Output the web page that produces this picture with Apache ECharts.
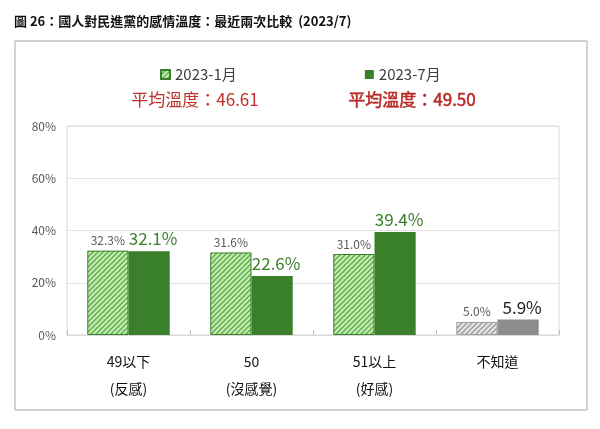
<!DOCTYPE html>
<html><head><meta charset="utf-8">
<script src="https://cdn.jsdelivr.net/npm/echarts@6/dist/echarts.min.js"></script>
<style>html,body{margin:0;padding:0;background:#fff}#c{width:600px;height:429px}</style>
</head><body><div id="c"></div>
<script>
const categories = ['49以下\n(反感)', '50\n(沒感覺)', '51以上\n(好感)', '不知道'];
const seriesNames = ['2023-1月', '2023-7月'];
const jan = [32.3, 31.6, 31.0, 5.0];
const jul = [32.1, 22.6, 39.4, 5.9];
const avgTexts = ['平均溫度：46.61', '平均溫度：49.50'];
const yTicks = [0, 20, 40, 60, 80];
const titleText = '圖 26：國人對民進黨的感情溫度：最近兩次比較  (2023/7)';

function hatch(bg, fg) {
  const c = document.createElement('canvas');
  c.width = 5; c.height = 5;
  const g = c.getContext('2d');
  g.fillStyle = bg; g.fillRect(0, 0, 5, 5);
  g.strokeStyle = fg; g.lineWidth = 1.3;
  g.beginPath();
  g.moveTo(-1, 6); g.lineTo(6, -1);
  g.moveTo(-1, 1); g.lineTo(1, -1);
  g.moveTo(4, 6); g.lineTo(6, 4);
  g.stroke();
  return { image: c, repeat: 'repeat' };
}
const greenHatch = hatch('#c4ebb2', '#5aab45');
const grayHatch = hatch('#e6e6e6', '#9a9a9a');
const darkGreen = '#3a7f2a';
const gray = '#8c8c8c';
const FONT = '"Noto Sans CJK TC", "Noto Sans", sans-serif';

const chart = echarts.init(document.getElementById('c'), null, { renderer: 'canvas' });
chart.setOption({
  animation: false,
  textStyle: { fontFamily: FONT },
  title: {
    text: titleText, left: 9, top: 10,
    textStyle: { fontSize: 13, fontWeight: 'bold', color: '#111', fontFamily: FONT }
  },
  legend: {
    data: seriesNames, left: 155, top: 62, itemWidth: 9, itemHeight: 9, itemGap: 128,
    icon: 'rect',
    textStyle: { fontSize: 15, color: '#404040', fontFamily: FONT }
  },
  graphic: [
    { type: 'rect', shape: { x: 15, y: 41, width: 572, height: 369 }, style: { fill: 'none', stroke: '#a6a6a6', lineWidth: 1 }, z: -1 },
    { type: 'text', x: 195, y: 100, style: { text: avgTexts[0], fill: '#c0302a', font: '17px ' + FONT, textAlign: 'center', textVerticalAlign: 'middle' } },
    { type: 'text', x: 412, y: 100, style: { text: avgTexts[1], fill: '#b82a24', font: '17px ' + FONT, textAlign: 'center', textVerticalAlign: 'middle', stroke: '#b82a24', lineWidth: 0.5 } }
  ],
  grid: { left: 67, right: 41, top: 126, bottom: 94, show: true, borderColor: '#d9d9d9', borderWidth: 1 },
  xAxis: {
    type: 'category', data: categories,
    axisLine: { lineStyle: { color: '#d9d9d9' } },
    axisTick: { show: true, inside: true, length: 5, lineStyle: { color: '#bfbfbf' } },
    axisLabel: { fontSize: 14, color: '#111', lineHeight: 27, margin: 13, fontFamily: FONT }
  },
  yAxis: {
    type: 'value', min: yTicks[0], max: yTicks[yTicks.length - 1], interval: 20,
    axisLine: { show: false }, axisTick: { show: false },
    splitLine: { lineStyle: { color: '#e3e3e3' } },
    axisLabel: { formatter: '{value}%', fontSize: 12, color: '#595959', margin: 11, fontFamily: FONT }
  },
  series: [
    {
      name: seriesNames[0], type: 'bar', barGap: '0%', barCategoryGap: '33%',
      itemStyle: { color: greenHatch, borderColor: darkGreen, borderWidth: 1 },
      label: { show: true, position: 'top', distance: 4, formatter: p => p.value.toFixed(1) + '%', fontSize: 12, color: '#595959', fontFamily: FONT },
      data: jan.map((v, i) => i === 3 ? { value: v, itemStyle: { color: grayHatch, borderColor: '#a0a0a0' } } : v)
    },
    {
      name: seriesNames[1], type: 'bar',
      itemStyle: { color: darkGreen },
      label: { show: true, position: 'top', distance: 4, offset: [4, 0], formatter: p => p.value.toFixed(1) + '%', fontSize: 17, color: darkGreen, fontFamily: FONT },
      data: jul.map((v, i) => i === 3 ? { value: v, itemStyle: { color: gray }, label: { color: '#1a1a1a' } } : v)
    }
  ]
});
</script></body></html>
